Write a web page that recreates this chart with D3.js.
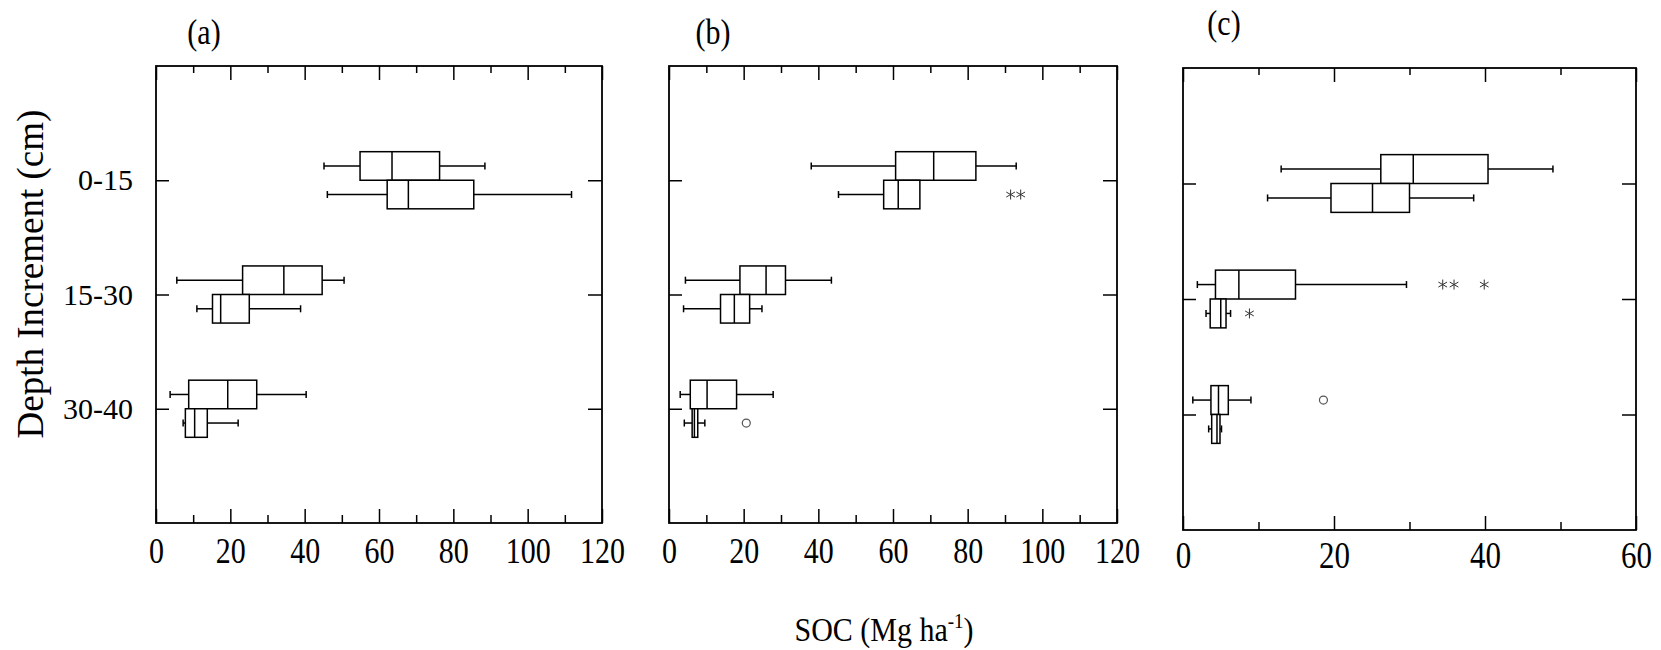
<!DOCTYPE html>
<html>
<head>
<meta charset="utf-8">
<script src="https://cdn.jsdelivr.net/npm/d3@7"></script>
<style>
  html, body { margin: 0; padding: 0; background: #fff; }
  svg { display: block; }
</style>
</head>
<body>
<script>
// ---------------- DATA ----------------
const depths = ["0-15", "15-30", "30-40"];
const panelLabels = ["(a)", "(b)", "(c)"];
const xMaxes = [120, 120, 60];
const majorTicksAB = [0, 20, 40, 60, 80, 100, 120];
const minorTicksAB = [10, 30, 50, 70, 90, 110];
const majorTicksC = [0, 20, 40, 60];
const minorTicksC = [10, 30, 50];

// five-number summaries per depth: [whiskerLow, Q1, median, Q3, whiskerHigh]
const aUpper = [[45.2, 54.9, 63.5, 76.3, 88.5], [5.6, 23.3, 34.4, 44.7, 50.6], [3.8, 8.8, 19.3, 27.1, 40.4]];
const aLower = [[46.1, 62.2, 67.9, 85.5, 111.8], [11.0, 15.2, 17.4, 25.1, 38.9], [7.3, 7.9, 10.4, 13.8, 22.1]];
const bUpper = [[38.1, 60.7, 70.9, 82.2, 93.0], [4.4, 19.0, 26.0, 31.2, 43.5], [3.0, 5.7, 10.2, 18.1, 27.9]];
const bLower = [[45.4, 57.5, 61.4, 67.2, 67.2], [3.9, 13.8, 17.5, 21.6, 24.9], [4.1, 6.2, 6.8, 7.7, 9.6]];
const cUpper = [[13.0, 26.2, 30.5, 40.4, 49.0], [1.9, 4.3, 7.4, 14.9, 29.6], [1.3, 3.7, 4.7, 6.0, 9.0]];
const cLower = [[11.2, 19.6, 25.1, 30.0, 38.5], [3.05, 3.6, 5.0, 5.7, 6.3], [3.4, 3.8, 4.5, 4.9, 5.1]];

// outliers: [depth, series, value, kind]
const aOutliers = [];
const bOutliers = [["0-15", "lower", 91.5, "star"], ["0-15", "lower", 94.2, "star"], ["30-40", "lower", 20.7, "circle"]];
const cOutliers = [["15-30", "upper", 34.4, "star"], ["15-30", "upper", 35.9, "star"], ["15-30", "upper", 39.9, "star"],
                   ["15-30", "lower", 8.8, "star"], ["30-40", "upper", 18.6, "circle"]];

// ---------------- LAYOUT ----------------
const W = 1661, H = 650;
const FONT = "'Liberation Serif', 'Times New Roman', serif";
const STRETCH = 1.2;
const svg = d3.select("body").append("svg").attr("width", W).attr("height", H);

const panels = [
  { label: panelLabels[0], xMax: xMaxes[0], majors: majorTicksAB, minors: minorTicksAB, upper: aUpper, lower: aLower, outliers: aOutliers,
    x0: 156, x1: 602, y0: 66, y1: 523, labelX: 204, labelY: 44, tickLabelY: 40, tickFont: 30, yLabels: true },
  { label: panelLabels[1], xMax: xMaxes[1], majors: majorTicksAB, minors: minorTicksAB, upper: bUpper, lower: bLower, outliers: bOutliers,
    x0: 669, x1: 1117, y0: 66, y1: 523, labelX: 713, labelY: 44, tickLabelY: 40, tickFont: 30, yLabels: false },
  { label: panelLabels[2], xMax: xMaxes[2], majors: majorTicksC, minors: minorTicksC, upper: cUpper, lower: cLower, outliers: cOutliers,
    x0: 1183, x1: 1636, y0: 68, y1: 530, labelX: 1224, labelY: 35, tickFont: 31, tickLabelY: 38, yLabels: false }
];

function styleAxis(g, fontSize) {
  g.select(".domain").remove();
  g.attr("font-family", FONT).attr("font-size", fontSize);
  g.selectAll(".tick line").attr("stroke", "#000").attr("stroke-width", 1.5);
  g.selectAll(".tick text").attr("fill", "#000");
}

function drawPanel(p) {
  const g = svg.append("g");
  const x = d3.scaleLinear().domain([0, p.xMax]).range([p.x0, p.x1]);
  const y = d3.scalePoint().domain(depths).range([p.y0, p.y1]).padding(1);
  const bh = y.step() / 4;

  // bottom axis: major (labelled) + minor
  g.append("g").attr("transform", `translate(0,${p.y1})`)
    .call(d3.axisBottom(x).tickValues(p.majors).tickSize(-14).tickSizeOuter(0).tickFormat(d3.format("d")))
    .call(a => styleAxis(a, p.tickFont))
    .call(a => a.selectAll(".tick text").attr("dy", null)
      .attr("y", p.tickLabelY / STRETCH).attr("transform", `scale(1,${STRETCH})`));
  g.append("g").attr("transform", `translate(0,${p.y1})`)
    .call(d3.axisBottom(x).tickValues(p.minors).tickSize(-8).tickSizeOuter(0).tickFormat(""))
    .call(a => styleAxis(a, p.tickFont));
  // top axis
  g.append("g").attr("transform", `translate(0,${p.y0})`)
    .call(d3.axisTop(x).tickValues(p.majors).tickSize(-14).tickSizeOuter(0).tickFormat(""))
    .call(a => styleAxis(a, p.tickFont));
  g.append("g").attr("transform", `translate(0,${p.y0})`)
    .call(d3.axisTop(x).tickValues(p.minors).tickSize(-7).tickSizeOuter(0).tickFormat(""))
    .call(a => styleAxis(a, p.tickFont));
  // left axis
  const left = d3.axisLeft(y).tickSize(-13).tickSizeOuter(0).tickPadding(23);
  if (!p.yLabels) left.tickFormat("");
  g.append("g").attr("transform", `translate(${p.x0},0)`)
    .call(left)
    .call(a => styleAxis(a, 30));
  // right axis
  g.append("g").attr("transform", `translate(${p.x1},0)`)
    .call(d3.axisRight(y).tickSize(-14).tickSizeOuter(0).tickFormat(""))
    .call(a => styleAxis(a, 30));

  // frame
  g.append("rect")
    .attr("x", p.x0).attr("y", p.y0)
    .attr("width", p.x1 - p.x0).attr("height", p.y1 - p.y0)
    .attr("fill", "none").attr("stroke", "#000").attr("stroke-width", 1.8);

  // boxes
  const series = [
    { key: "upper", data: p.upper, off: -bh },
    { key: "lower", data: p.lower, off: 0 }
  ];
  series.forEach(s => {
    s.data.forEach((v, i) => {
      const top = y(depths[i]) + s.off;
      const mid = top + bh / 2;
      const [wl, q1, md, q3, wh] = v;
      const bg = g.append("g").attr("stroke", "#000").attr("stroke-width", 1.5).attr("fill", "none");
      if (wl < q1) {
        bg.append("line").attr("x1", x(wl)).attr("x2", x(q1)).attr("y1", mid).attr("y2", mid);
        bg.append("line").attr("x1", x(wl)).attr("x2", x(wl)).attr("y1", mid - 3.5).attr("y2", mid + 3.5);
      }
      if (wh > q3) {
        bg.append("line").attr("x1", x(q3)).attr("x2", x(wh)).attr("y1", mid).attr("y2", mid);
        bg.append("line").attr("x1", x(wh)).attr("x2", x(wh)).attr("y1", mid - 3.5).attr("y2", mid + 3.5);
      }
      bg.append("rect").attr("x", x(q1)).attr("y", top)
        .attr("width", x(q3) - x(q1)).attr("height", bh).attr("fill", "#fff");
      bg.append("line").attr("x1", x(md)).attr("x2", x(md)).attr("y1", top).attr("y2", top + bh);
    });
  });

  // outliers
  const star = d3.symbol().type(d3.symbolAsterisk || d3.symbolCross).size(70);
  p.outliers.forEach(o => {
    const [dep, ser, val, kind] = o;
    const cy = y(dep) + (ser === "upper" ? -bh / 2 : bh / 2);
    if (kind === "star") {
      g.append("path").attr("d", star())
        .attr("transform", `translate(${x(val)},${cy})`)
        .attr("fill", "none").attr("stroke", "#333").attr("stroke-width", 1);
    } else {
      g.append("circle").attr("cx", x(val)).attr("cy", cy).attr("r", 4)
        .attr("fill", "none").attr("stroke", "#555").attr("stroke-width", 1.2);
    }
  });

  // panel label
  svg.append("text").attr("transform", `translate(${p.labelX},${p.labelY}) scale(1,${STRETCH})`)
    .attr("text-anchor", "middle").attr("font-family", FONT).attr("font-size", 30)
    .attr("fill", "#000").text(p.label);
}

panels.forEach(drawPanel);

// y-axis title
svg.append("text")
  .attr("transform", "translate(43,274) rotate(-90)")
  .attr("text-anchor", "middle").attr("font-family", FONT).attr("font-size", 37)
  .attr("fill", "#000").text("Depth Increment (cm)");

// x-axis title
const xt = svg.append("text")
  .attr("transform", `translate(884,641) scale(1,1.12)`)
  .attr("text-anchor", "middle").attr("font-family", FONT).attr("font-size", 30)
  .attr("fill", "#000");
xt.append("tspan").text("SOC (Mg ha");
xt.append("tspan").attr("font-size", 19).attr("dy", -12).text("-1");
xt.append("tspan").attr("dy", 12).text(")");
</script>
</body>
</html>
